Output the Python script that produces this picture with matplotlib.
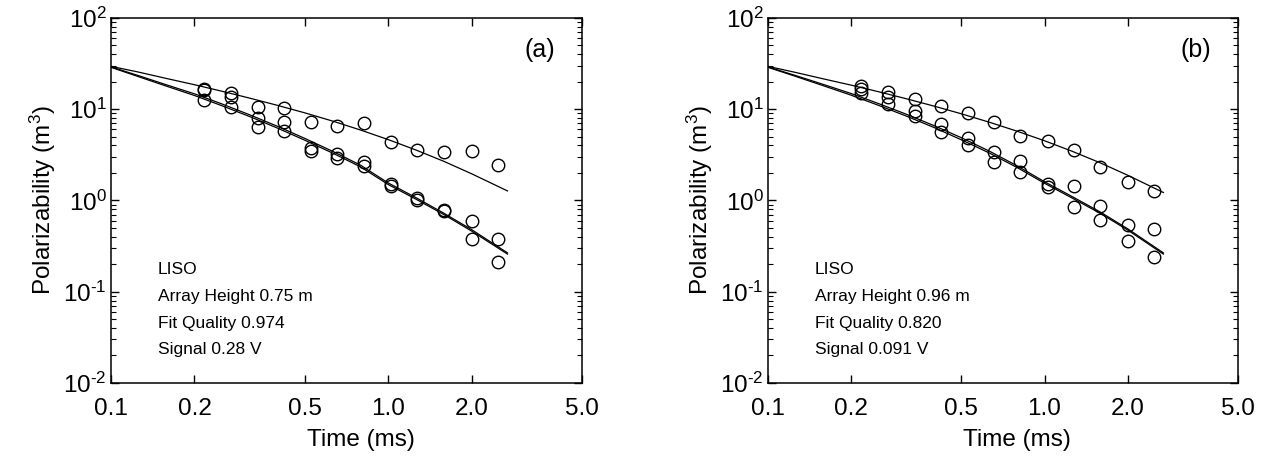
import numpy as np
import matplotlib
matplotlib.use("Agg")
import matplotlib.pyplot as plt
from matplotlib.ticker import FixedLocator, FixedFormatter, LogLocator, NullLocator

plt.rcParams['font.family'] = ['Liberation Sans', 'DejaVu Sans']
plt.rcParams['mathtext.fontset'] = 'custom'
plt.rcParams['mathtext.rm'] = 'Liberation Sans'
plt.rcParams['mathtext.it'] = 'Liberation Sans:italic'

# time gates (ms)
time_gates = [0.217, 0.271, 0.340, 0.422, 0.527, 0.655, 0.818, 1.026, 1.274, 1.592, 1.995, 2.49]

# measured polarizabilities, panel (a)
a_l1 = [16.7, 15.1, 10.5, 10.3, 7.2, 6.5, 7.06, 4.32, 3.6, 3.4, 3.51, 2.42]
a_l2 = [16.1, 13.6, 8.0, 7.2, 3.76, 3.25, 2.64, 1.51, 1.06, 0.79, 0.589, 0.38]
a_l3 = [12.7, 10.5, 6.4, 5.7, 3.51, 2.89, 2.40, 1.42, 1.02, 0.757, 0.378, 0.209]

# measured polarizabilities, panel (b)
b_l1 = [18.1, 15.3, 12.9, 10.9, 9.08, 7.16, 5.12, 4.43, 3.6, 2.32, 1.61, 1.28]
b_l2 = [16.4, 13.5, 9.46, 6.88, 4.83, 3.36, 2.68, 1.51, 1.45, 0.875, 0.532, 0.485]
b_l3 = [15.1, 11.4, 8.49, 5.62, 4.01, 2.64, 2.03, 1.40, 0.847, 0.614, 0.355, 0.239]

# model fit curves
fit_t = [0.1, 0.126, 0.158, 0.2, 0.251, 0.316, 0.398, 0.501, 0.631, 0.794, 1.0, 1.259, 1.585, 1.995, 2.69]
a_fit1 = [29.4, 25.4, 21.7, 18.5, 15.7, 13.2, 11.0, 9.08, 7.38, 5.90, 4.63, 3.56, 2.68, 1.96, 1.27]
a_fit2 = [29.0, 23.2, 18.5, 14.7, 11.4, 8.67, 6.49, 4.76, 3.44, 2.43, 1.55, 1.07, 0.724, 0.479, 0.266]
a_fit3 = [28.7, 22.6, 17.9, 14.1, 10.9, 8.3, 6.2, 4.55, 3.29, 2.33, 1.49, 1.03, 0.70, 0.462, 0.258]
b_fit1 = [29.4, 25.2, 21.5, 18.3, 15.5, 13.0, 10.8, 8.87, 7.19, 5.74, 4.50, 3.45, 2.59, 1.89, 1.22]
b_fit2 = [29.0, 23.3, 18.7, 14.8, 11.5, 8.8, 6.6, 4.85, 3.47, 2.40, 1.60, 1.10, 0.75, 0.49, 0.266]
b_fit3 = [28.7, 22.8, 18.1, 14.2, 11.0, 8.4, 6.3, 4.6, 3.31, 2.30, 1.54, 1.06, 0.725, 0.475, 0.258]

x_ticks = [0.1, 0.2, 0.5, 1.0, 2.0, 5.0]
x_tick_labels = ["0.1", "0.2", "0.5", "1.0", "2.0", "5.0"]
y_ticks = [1e-2, 1e-1, 1e0, 1e1, 1e2]
y_tick_labels = [r"$10^{\text{-2}}$", r"$10^{\text{-1}}$", r"$10^{0}$", r"$10^{1}$", r"$10^{2}$"]

info_a = ["LISO", "Array Height 0.75 m", "Fit Quality 0.974", "Signal 0.28 V"]
info_b = ["LISO", "Array Height 0.96 m", "Fit Quality 0.820", "Signal 0.091 V"]


def panel(ax, meas, fits, info, tag):
    for f in fits:
        ax.plot(fit_t, f, color='black', lw=0.9)
    for m in meas:
        ax.plot(time_gates, m, 'o', mfc='none', mec='black', ms=9, mew=1.0)
    ax.set_xscale('log')
    ax.set_yscale('log')
    ax.set_xlim(0.1, 5.0)
    ax.set_ylim(1e-2, 1e2)
    ax.xaxis.set_major_locator(FixedLocator(x_ticks))
    ax.xaxis.set_major_formatter(FixedFormatter(x_tick_labels))
    ax.xaxis.set_minor_locator(NullLocator())
    ax.yaxis.set_major_locator(FixedLocator(y_ticks))
    ax.yaxis.set_major_formatter(FixedFormatter(y_tick_labels))
    ax.yaxis.set_minor_locator(LogLocator(base=10, subs=np.arange(2, 10), numticks=10))
    ax.tick_params(which='both', direction='in', top=True, right=True, labelsize=17.5)
    ax.tick_params(which='major', length=6, width=1.0)
    ax.tick_params(which='minor', length=3.5, width=0.8)
    ax.tick_params(axis='x', pad=11)
    ax.tick_params(axis='y', pad=3)
    for s in ax.spines.values():
        s.set_linewidth(1.1)
    ax.set_xlabel("Time (ms)", fontsize=17.5)
    ax.xaxis.set_label_coords(0.53, -0.125)
    ax.set_ylabel("Polarizability (m$^3$)", fontsize=17.5, labelpad=4)
    for i, line in enumerate(info):
        ax.text(0.10, 0.31 - i * 0.073, line, transform=ax.transAxes,
                fontsize=12.5, va='center', ha='left')
    ax.text(0.91, 0.912, tag, transform=ax.transAxes, fontsize=18,
            va='center', ha='center')


fig = plt.figure(figsize=(12.7, 4.57), dpi=100)
ax1 = fig.add_axes([0.0874, 0.162, 0.371, 0.799])
ax2 = fig.add_axes([0.6047, 0.162, 0.370, 0.799])

panel(ax1, [a_l1, a_l2, a_l3], [a_fit1, a_fit2, a_fit3], info_a, "(a)")
panel(ax2, [b_l1, b_l2, b_l3], [b_fit1, b_fit2, b_fit3], info_b, "(b)")

fig.savefig("out.png", dpi=100)
